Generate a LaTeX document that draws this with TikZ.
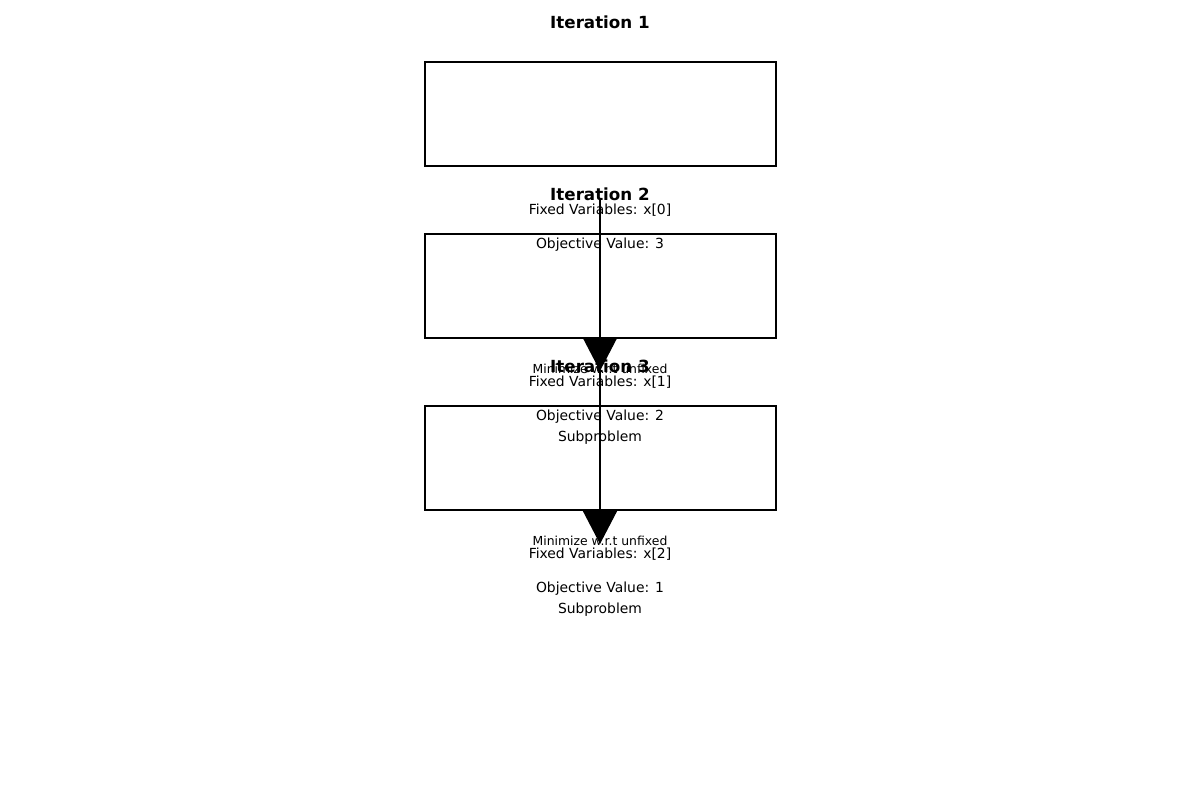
\documentclass[tikz,border=0pt]{standalone}
\usepackage{fontspec}
\setmainfont{DejaVu Sans}
\usetikzlibrary{arrows.meta}
\tikzset{
  titletext/.style={font=\fontsize{16.7}{18}\selectfont\bfseries, inner sep=0pt, anchor=center},
  bodytext/.style={font=\fontsize{13.9}{16}\selectfont, inner sep=0pt, anchor=center},
  smalltext/.style={font=\fontsize{12.4}{14}\selectfont, inner sep=0pt, anchor=center},
  iterbox/.style={draw=black, line width=2pt, rectangle, minimum width=351pt, minimum height=104pt, inner sep=0pt, outer sep=0pt},
  flow/.style={draw=black, line width=1.4pt, -{Triangle[length=33pt,width=34pt]}},
}
\begin{document}
\begin{tikzpicture}[x=1pt,y=-1pt]
\useasboundingbox (0,0) rectangle (1200,800);
% boxes
\node[iterbox] (b1) at (600.5,114) {};
\node[iterbox] (b2) at (600.5,286) {};
\node[iterbox] (b3) at (600.5,458) {};
% titles
\node[titletext] (t1) at (600,22.5) {Iteration 1};
\node[titletext] (t2) at (600,194.5) {Iteration 2};
\node[titletext] (t3) at (600,366.5) {Iteration 3};
% fixed variables
\node[bodytext] (f1) at (600,210.5) {Fixed Variables: x[0]};
\node[bodytext] (f2) at (600,382.5) {Fixed Variables: x[1]};
\node[bodytext] (f3) at (600,554.5) {Fixed Variables: x[2]};
% objective values
\node[bodytext] (o1) at (600,244.5) {Objective Value: 3};
\node[bodytext] (o2) at (600,416.5) {Objective Value: 2};
\node[bodytext] (o3) at (600,588.5) {Objective Value: 1};
% subproblems
\node[bodytext] (s2) at (600,437.5) {Subproblem};
\node[bodytext] (s3) at (600,609.5) {Subproblem};
% arrow labels
\node[smalltext] (m1) at (600,369) {Minimize w.r.t unfixed};
\node[smalltext] (m2) at (600,541) {Minimize w.r.t unfixed};
% connectors
\coordinate (p0) at (600,198);
\coordinate (p1) at (600,371);
\coordinate (p2) at (600,544);
\draw[flow] (p0) -- (p1);
\draw[flow] (p1) -- (p2);
\end{tikzpicture}
\end{document}
